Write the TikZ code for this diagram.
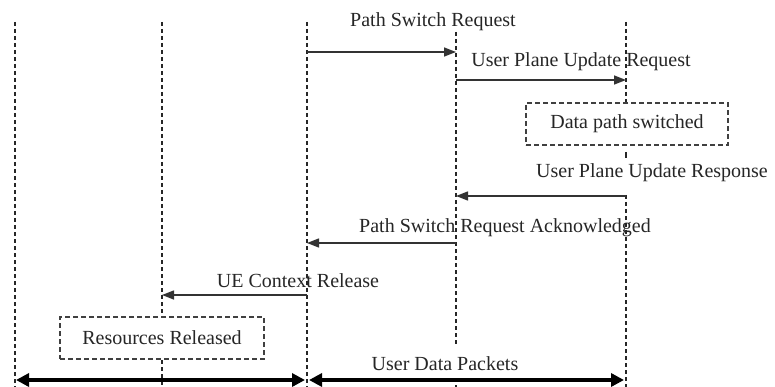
\documentclass[tikz,border=0pt]{standalone}
\usepackage{fontspec}
\setmainfont{Liberation Serif}
\usetikzlibrary{arrows.meta}
\begin{document}
\begin{tikzpicture}[x=1pt,y=-1pt,
  lifeline/.style={line width=1.3pt,dash pattern=on 4pt off 3pt,black!85},
  msg/.style={line width=1.4pt,black!80,-{Triangle[length=12pt,width=9pt]}},
  bulk/.style={line width=4pt,black,{Triangle[length=13pt,width=13pt]}-{Triangle[length=13pt,width=13pt]},shorten <=1pt,shorten >=1pt},
  lbl/.style={font=\fontsize{20}{24}\selectfont,text=black!85,inner sep=0pt},
  statebox/.style={draw=black!75,line width=1.3pt,dash pattern=on 5pt off 3pt,fill=white,font=\fontsize{20}{24}\selectfont,text=black!85}]
\useasboundingbox (0,0) rectangle (775,387);

% lifeline anchors
\coordinate (a0) at (15,22);   \coordinate (a1) at (15,387);
\coordinate (b0) at (162,22);  \coordinate (b1) at (162,317);
\coordinate (b2) at (162,360); \coordinate (b3) at (162,387);
\coordinate (c0) at (307,22);  \coordinate (c1) at (307,387);
\coordinate (d0) at (456,32);  \coordinate (d1) at (456,345);
\coordinate (d2) at (456,385); \coordinate (d3) at (456,387);
\coordinate (e0) at (626,22);  \coordinate (e1) at (626,103);
\coordinate (e2) at (626,152); \coordinate (e3) at (626,158);
\coordinate (e4) at (626,195); \coordinate (e5) at (626,387);

% lifelines
\draw[lifeline] (a0) -- (a1);
\draw[lifeline] (b0) -- (b1);
\draw[lifeline] (b2) -- (b3);
\draw[lifeline] (c0) -- (c1);
\draw[lifeline] (d0) -- (d1);
\draw[lifeline] (d2) -- (d3);
\draw[lifeline] (e0) -- (e1);
\draw[lifeline,dash pattern=on 4pt off 0pt] (e2) -- (e3);
\draw[lifeline] (e4) -- (e5);

% state boxes
\node[statebox,minimum width=202pt,minimum height=42pt] (dps) at (627,124) {Data path switched};
\node[statebox,minimum width=204pt,minimum height=42pt] (rr) at (162,338) {Resources Released};

% message end points
\coordinate (m1s) at (307,52);  \coordinate (m1e) at (456,52);
\coordinate (m2s) at (456,80);  \coordinate (m2e) at (626,80);
\coordinate (m3s) at (626,196); \coordinate (m3e) at (456,196);
\coordinate (m4s) at (456,243); \coordinate (m4e) at (307,243);
\coordinate (m5s) at (307,295); \coordinate (m5e) at (162,295);
\coordinate (u0) at (15,380);   \coordinate (u1) at (306,380);
\coordinate (u2) at (308,380);  \coordinate (u3) at (625,380);

% messages
\draw[msg] (m1s) -- (m1e);
\draw[msg] (m2s) -- (m2e);
\draw[msg] (m3s) -- (m3e);
\draw[msg] (m4s) -- (m4e);
\draw[msg] (m5s) -- (m5e);
\draw[bulk] (u0) -- (u1);
\draw[bulk] (u2) -- (u3);

% labels
\node[lbl] (t1) at (433,22) {Path Switch Request};
\node[lbl] (t2) at (581,62) {User Plane Update Request};
\node[lbl] (t3) at (652,173) {User Plane Update Response};
\node[lbl] (t4) at (505,228) {Path Switch Request Acknowledged};
\node[lbl] (t5) at (298,281) {UE Context Release};
\node[lbl] (t6) at (445,364) {User Data Packets};
\end{tikzpicture}
\end{document}
